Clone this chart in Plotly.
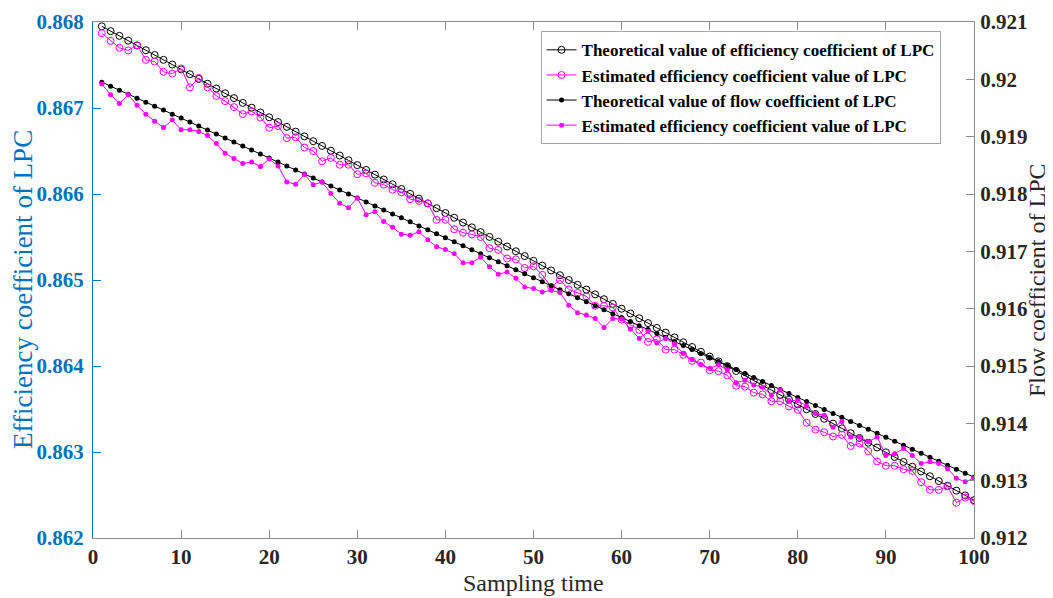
import plotly.graph_objects as go

# ---------------- data ----------------
sampling_time = list(range(1, 101))

theo_eff = [
    0.867950, 0.867894, 0.867839, 0.867783, 0.867727, 0.867672, 0.867616, 0.867560, 0.867505, 0.867449,
    0.867393, 0.867338, 0.867282, 0.867226, 0.867171, 0.867115, 0.867059, 0.867004, 0.866948, 0.866892,
    0.866837, 0.866781, 0.866725, 0.866670, 0.866614, 0.866559, 0.866503, 0.866447, 0.866392, 0.866336,
    0.866280, 0.866225, 0.866169, 0.866113, 0.866058, 0.866002, 0.865946, 0.865891, 0.865835, 0.865779,
    0.865724, 0.865668, 0.865612, 0.865557, 0.865501, 0.865445, 0.865390, 0.865334, 0.865278, 0.865223,
    0.865167, 0.865111, 0.865056, 0.865000, 0.864944, 0.864889, 0.864833, 0.864777, 0.864722, 0.864666,
    0.864610, 0.864555, 0.864499, 0.864443, 0.864388, 0.864332, 0.864276, 0.864221, 0.864165, 0.864109,
    0.864054, 0.863998, 0.863942, 0.863887, 0.863831, 0.863776, 0.863720, 0.863664, 0.863609, 0.863553,
    0.863497, 0.863442, 0.863386, 0.863330, 0.863275, 0.863219, 0.863163, 0.863108, 0.863052, 0.862996,
    0.862941, 0.862885, 0.862829, 0.862774, 0.862718, 0.862662, 0.862607, 0.862551, 0.862495, 0.862440,
]

est_eff = [
    0.86787, 0.86778, 0.86770, 0.86767, 0.86773, 0.86756, 0.86754, 0.86742, 0.86740, 0.86746,
    0.86724, 0.86735, 0.86724, 0.86714, 0.86708, 0.86701, 0.86693, 0.86696, 0.86689, 0.86677,
    0.86679, 0.86665, 0.86666, 0.86654, 0.86650, 0.86638, 0.86642, 0.86634, 0.86634, 0.86623,
    0.86624, 0.86613, 0.86611, 0.86605, 0.86602, 0.86594, 0.86592, 0.86589, 0.86570, 0.86570,
    0.86559, 0.86555, 0.86553, 0.86550, 0.86537, 0.86535, 0.86525, 0.86524, 0.86514, 0.86516,
    0.86506, 0.86492, 0.86500, 0.86489, 0.86485, 0.86481, 0.86470, 0.86470, 0.86468, 0.86454,
    0.86448, 0.86442, 0.86428, 0.86431, 0.86419, 0.86419, 0.86413, 0.86406, 0.86404, 0.86395,
    0.86394, 0.86389, 0.86377, 0.86376, 0.86369, 0.86367, 0.86359, 0.86359, 0.86353, 0.86349,
    0.86334, 0.86326, 0.86323, 0.86318, 0.86320, 0.86307, 0.86310, 0.86301, 0.86289, 0.86284,
    0.86284, 0.86280, 0.86278, 0.86265, 0.86256, 0.86256, 0.86260, 0.86241, 0.86247, 0.86243,
]

theo_flow = [
    0.919950, 0.919880, 0.919811, 0.919741, 0.919672, 0.919602, 0.919532, 0.919463, 0.919393, 0.919324,
    0.919254, 0.919184, 0.919115, 0.919045, 0.918976, 0.918906, 0.918836, 0.918767, 0.918697, 0.918628,
    0.918558, 0.918488, 0.918419, 0.918349, 0.918280, 0.918210, 0.918140, 0.918071, 0.918001, 0.917932,
    0.917862, 0.917792, 0.917723, 0.917653, 0.917584, 0.917514, 0.917444, 0.917375, 0.917305, 0.917236,
    0.917166, 0.917096, 0.917027, 0.916957, 0.916888, 0.916818, 0.916748, 0.916679, 0.916609, 0.916540,
    0.916470, 0.916400, 0.916331, 0.916261, 0.916192, 0.916122, 0.916052, 0.915983, 0.915913, 0.915844,
    0.915774, 0.915704, 0.915635, 0.915565, 0.915496, 0.915426, 0.915356, 0.915287, 0.915217, 0.915148,
    0.915078, 0.915008, 0.914939, 0.914869, 0.914800, 0.914730, 0.914660, 0.914591, 0.914521, 0.914452,
    0.914382, 0.914312, 0.914243, 0.914173, 0.914104, 0.914034, 0.913964, 0.913895, 0.913825, 0.913756,
    0.913686, 0.913616, 0.913547, 0.913477, 0.913408, 0.913338, 0.913268, 0.913199, 0.913129, 0.913060,
]

est_flow = [
    0.91992, 0.91973, 0.91958, 0.91973, 0.91955, 0.91939, 0.91927, 0.91916, 0.91929, 0.91912,
    0.91912, 0.91909, 0.91902, 0.91888, 0.91871, 0.91862, 0.91853, 0.91856, 0.91848, 0.91861,
    0.91849, 0.91821, 0.91817, 0.91834, 0.91816, 0.91821, 0.91801, 0.91784, 0.91776, 0.91793,
    0.91764, 0.91769, 0.91752, 0.91742, 0.91730, 0.91728, 0.91734, 0.91720, 0.91708, 0.91703,
    0.91696, 0.91680, 0.91680, 0.91690, 0.91673, 0.91660, 0.91664, 0.91653, 0.91638, 0.91635,
    0.91629, 0.91632, 0.91628, 0.91606, 0.91593, 0.91589, 0.91583, 0.91567, 0.91583, 0.91582,
    0.91564, 0.91548, 0.91560, 0.91540, 0.91548, 0.91539, 0.91522, 0.91511, 0.91502, 0.91496,
    0.91502, 0.91493, 0.91471, 0.91475, 0.91467, 0.91463, 0.91449, 0.91458, 0.91440, 0.91440,
    0.91430, 0.91417, 0.91414, 0.91393, 0.91403, 0.91376, 0.91376, 0.91368, 0.91376, 0.91344,
    0.91347, 0.91356, 0.91344, 0.91330, 0.91333, 0.91330, 0.91321, 0.91304, 0.91298, 0.91304,
]

x_tickvals = [0, 10, 20, 30, 40, 50, 60, 70, 80, 90, 100]
x_ticktext = ["0", "10", "20", "30", "40", "50", "60", "70", "80", "90", "100"]
left_tickvals = [0.862, 0.863, 0.864, 0.865, 0.866, 0.867, 0.868]
left_ticktext = ["0.862", "0.863", "0.864", "0.865", "0.866", "0.867", "0.868"]
right_tickvals = [0.912, 0.913, 0.914, 0.915, 0.916, 0.917, 0.918, 0.919, 0.920, 0.921]
right_ticktext = ["0.912", "0.913", "0.914", "0.915", "0.916", "0.917", "0.918", "0.919", "0.92", "0.921"]

names = [
    "Theoretical value of efficiency coefficient of LPC",
    "Estimated efficiency coefficient value of LPC",
    "Theoretical value of flow coefficient of LPC",
    "Estimated efficiency coefficient value of LPC",
]

# ---------------- style ----------------
BLUE = "#0072BD"
DARK = "#262626"
GRAYLINE = "#8c8c8c"
MAG = "#FF00FF"
SERIF = "Liberation Serif, Times New Roman, serif"

fig = go.Figure()

fig.add_trace(go.Scatter(
    x=sampling_time, y=theo_eff, name=names[0], mode="lines+markers",
    line=dict(color="black", width=1),
    marker=dict(symbol="circle-open", size=7, color="black", line=dict(width=1)),
    yaxis="y",
))
fig.add_trace(go.Scatter(
    x=sampling_time, y=est_eff, name=names[1], mode="lines+markers",
    line=dict(color=MAG, width=1),
    marker=dict(symbol="circle-open", size=7, color=MAG, line=dict(width=1)),
    yaxis="y",
))
fig.add_trace(go.Scatter(
    x=sampling_time, y=theo_flow, name=names[2], mode="lines+markers",
    line=dict(color="black", width=1),
    marker=dict(symbol="circle", size=5, color="black"),
    yaxis="y2",
))
fig.add_trace(go.Scatter(
    x=sampling_time, y=est_flow, name=names[3], mode="lines+markers",
    line=dict(color=MAG, width=1),
    marker=dict(symbol="circle", size=5, color=MAG),
    yaxis="y2",
))

# page body has an 8px default margin: the figure is sized/offset to compensate
fig.update_layout(
    width=1045, height=590,
    margin=dict(l=85, r=79, t=14, b=60, autoexpand=False),
    paper_bgcolor="white", plot_bgcolor="white",
    font=dict(family=SERIF, color=DARK),
    showlegend=True,
    legend=dict(
        x=0.508, y=0.982, xanchor="left", yanchor="top",
        bgcolor="white", bordercolor="#a6a6a6", borderwidth=1,
        font=dict(family=SERIF, size=17, color="black", weight="bold"),
        itemwidth=30, tracegroupgap=0,
    ),
    xaxis=dict(
        range=[0, 100], tickvals=x_tickvals, ticktext=x_ticktext,
        ticks="inside", ticklen=8, tickcolor=GRAYLINE, tickwidth=1,
        showline=True, linecolor=GRAYLINE, linewidth=1, mirror="ticks",
        showgrid=False, zeroline=False,
        tickfont=dict(family=SERIF, size=21, color=DARK, weight="bold"),
        ticklabelstandoff=0,
    ),
    yaxis=dict(
        range=[0.862, 0.868], tickvals=left_tickvals, ticktext=left_ticktext,
        ticks="inside", ticklen=8, tickcolor=BLUE, tickwidth=1,
        showline=True, linecolor=BLUE, linewidth=1,
        showgrid=False, zeroline=False,
        tickfont=dict(family=SERIF, size=21, color=BLUE, weight="bold"),
        ticklabelstandoff=4,
    ),
    yaxis2=dict(
        range=[0.912, 0.921], tickvals=right_tickvals, ticktext=right_ticktext,
        overlaying="y", side="right",
        ticks="inside", ticklen=8, tickcolor=GRAYLINE, tickwidth=1,
        showline=True, linecolor=GRAYLINE, linewidth=1,
        showgrid=False, zeroline=False,
        tickfont=dict(family=SERIF, size=21, color=DARK, weight="bold"),
        ticklabelstandoff=1,
    ),
    annotations=[
        dict(text="Efficiency coefficient of LPC", xref="paper", yref="paper",
             x=0, y=0.5, xshift=-70, yshift=-10, textangle=-90, showarrow=False,
             xanchor="center", yanchor="middle",
             font=dict(family=SERIF, size=27, color=BLUE)),
        dict(text="Flow coefficient of LPC", xref="paper", yref="paper",
             x=1, y=0.5, xshift=63, textangle=-90, showarrow=False,
             xanchor="center", yanchor="middle",
             font=dict(family=SERIF, size=24, color=DARK)),
        dict(text="Sampling time", xref="paper", yref="paper",
             x=0.5, y=0, yshift=-45, showarrow=False,
             xanchor="center", yanchor="middle",
             font=dict(family=SERIF, size=24, color=DARK)),
    ],
)

fig.write_html("out.html")
